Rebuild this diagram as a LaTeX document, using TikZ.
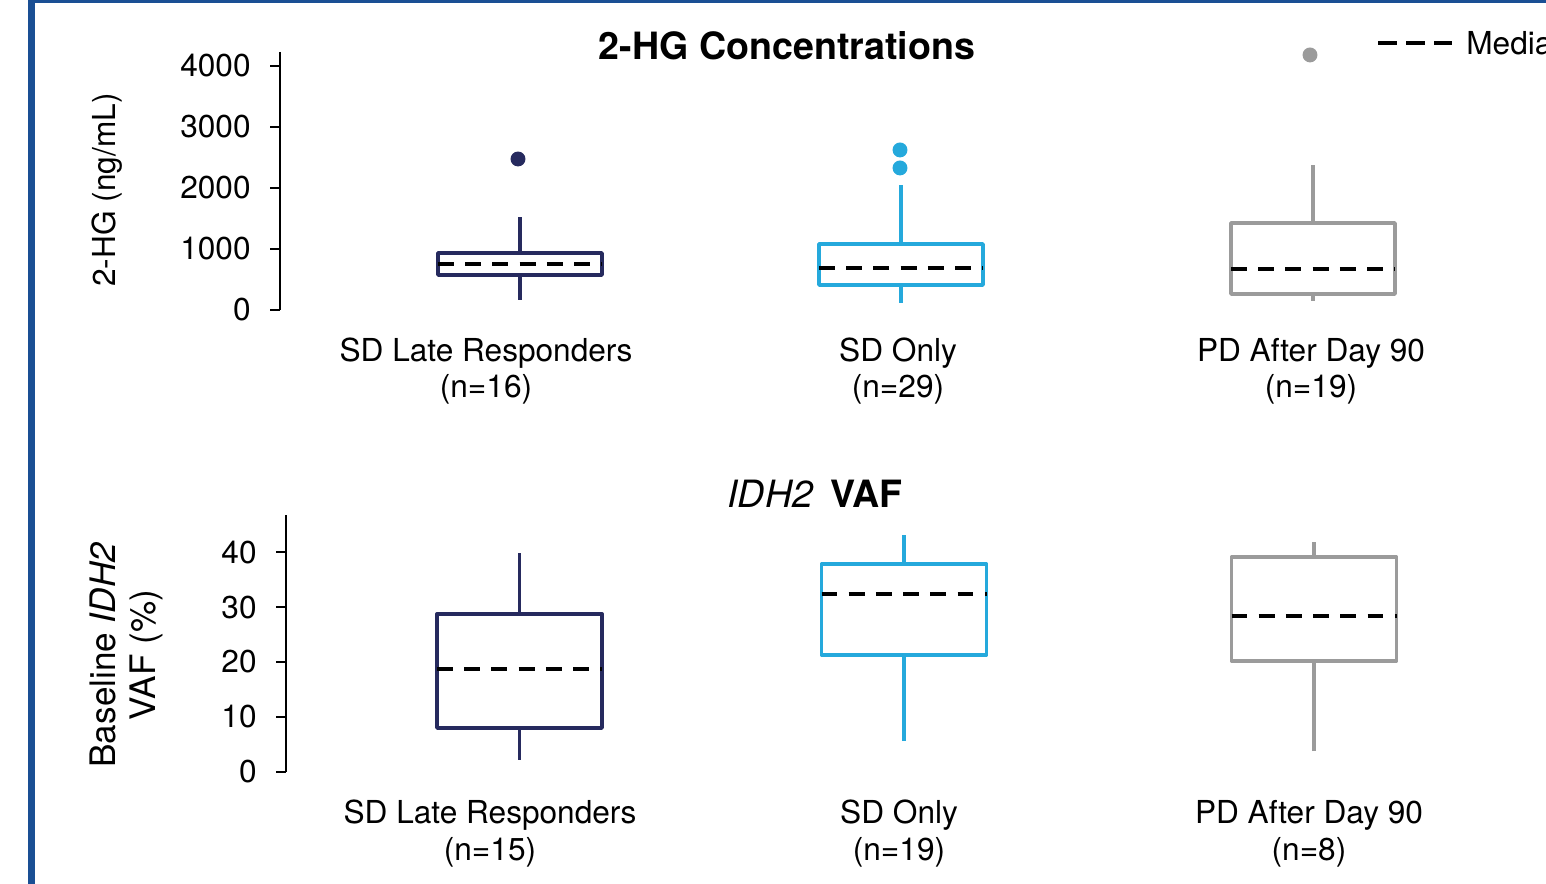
\documentclass[tikz,border=0pt]{standalone}
\usepackage{fontspec}
\setmainfont{TeX Gyre Heros}
\definecolor{frameBlue}{HTML}{1A4F94}
\definecolor{navyBox}{HTML}{262A5E}
\definecolor{cyanBox}{HTML}{25A9DC}
\definecolor{grayBox}{HTML}{9B9B9B}
\begin{document}
\begin{tikzpicture}
[x=0.02cm,y=-0.02cm,
  axisLine/.style={line width=1.1pt},%
  boxLine/.style={line width=2.1pt,line join=round},
  medianLine/.style={line width=2.1pt,dash pattern=on 9pt off 6.5pt},
  legendLine/.style={line width=2.1pt,dash pattern=on 11pt off 5pt},
  tickLabel/.style={anchor=east,inner sep=0pt,font=\fontsize{18}{21.6}\selectfont},
  catLabel/.style={anchor=base,inner sep=0pt,font=\fontsize{18}{21.6}\selectfont},
  titleLabel/.style={inner sep=0pt,font=\fontsize{21.4}{25}\selectfont},
  outlierDot/.style={circle,inner sep=0pt,minimum size=8.5pt}]
\useasboundingbox (0,0) rectangle (1546,884);
\clip (0,0) rectangle (1546,884);
%% frame
\draw[frameBlue,line width=4pt] (31.5,900) -- (31.5,-0.5) -- (1560,-0.5);
%% titles and legend
\node (hgTitle) at (787,46) [titleLabel] {\bfseries 2-HG Concentrations};
\node (vafTitle) at (815,494) [titleLabel] {\itshape IDH2\hspace{0.45em}\upshape\bfseries VAF};
\draw[legendLine] (1378,43) -- (1452,43);
\node (legendText) at (1466,43) [anchor=west,inner sep=0pt,font=\fontsize{18}{21.6}\selectfont] {Median};
%% axis titles
\node (hgAxisTitle) at (107,190) [rotate=90,inner sep=0pt,font=\fontsize{18}{21.6}\selectfont] {2-HG (ng/mL)};
\node (vafAxisTitleA) at (103,655) [rotate=90,inner sep=0pt,font=\fontsize{20}{24}\selectfont] {Baseline \textit{IDH2}};
\node (vafAxisTitleB) at (146,655) [rotate=90,inner sep=0pt,font=\fontsize{20}{24}\selectfont] {VAF (\%)};
%% 2-HG panel, values in ng/mL
\begin{scope}[shift={(0,310)},y=0.00122cm]
  \draw[axisLine] (280,4230) -- (280,0);
  \foreach \v in {0,1000,...,4000}
  {
    \draw[axisLine] (270,\v) -- (280,\v);
    \node (hgTick\v) at (251,\v) [tickLabel] {\v};
  }
  \foreach \name/\cx/\lo/\qa/\md/\qb/\hi/\col in {
    lr/520/164/574/754/934/1525/navyBox,
    sd/901/115/410/689/1082/2049/cyanBox,
    pd/1313/148/262/672/1426/2377/grayBox}
  {
    \draw[boxLine,\col] (\cx-82,\qa) rectangle (\cx+82,\qb);
    \draw[boxLine,\col] (\cx,\lo) -- (\cx,\qa) (\cx,\qb) -- (\cx,\hi);
    \draw[medianLine] (\cx-82,\md) -- (\cx+82,\md);
  }
  \foreach \x/\v/\col [count=\i] in {
    518/2475/navyBox, 900/2623/cyanBox, 900/2328/cyanBox, 1310/4180/grayBox}
  {
    \node (hgOut\i) at (\x,\v) [outlierDot,fill=\col] {};
  }
\end{scope}
%% VAF panel, values in %
\begin{scope}[shift={(0,772)},y=0.11cm]
  \draw[axisLine] (286,46.7) -- (286,0);
  \foreach \v in {0,10,...,40}
  {
    \draw[axisLine] (276,\v) -- (286,\v);
    \node (vafTick\v) at (257,\v) [tickLabel] {\v};
  }
  \foreach \name/\cx/\lo/\qa/\md/\qb/\hi/\col in {
    lr/519.5/2.2/8.0/18.7/28.7/39.8/navyBox,
    sd/904/5.6/21.3/32.4/37.8/43.1/cyanBox,
    pd/1314/3.8/20.2/28.4/39.1/41.8/grayBox}
  {
    \draw[boxLine,\col] (\cx-82.5,\qa) rectangle (\cx+82.5,\qb);
    \draw[boxLine,\col] (\cx,\lo) -- (\cx,\qa) (\cx,\qb) -- (\cx,\hi);
    \draw[medianLine] (\cx-82.5,\md) -- (\cx+82.5,\md);
  }
\end{scope}
%% group labels
\foreach \name/\x/\y/\txt in {
  hgLr/486/362/SD Late Responders, hgLrN/486/398/(n=16),
  hgSd/898/362/SD Only, hgSdN/898/398/(n=29),
  hgPd/1311/362/PD After Day 90, hgPdN/1311/398/(n=19),
  vafLr/490/824/SD Late Responders, vafLrN/490/861/(n=15),
  vafSd/899/824/SD Only, vafSdN/899/861/(n=19),
  vafPd/1309/824/PD After Day 90, vafPdN/1309/861/(n=8)}
{
  \node (\name) at (\x,\y) [catLabel] {\txt};
}
\end{tikzpicture}
\end{document}
